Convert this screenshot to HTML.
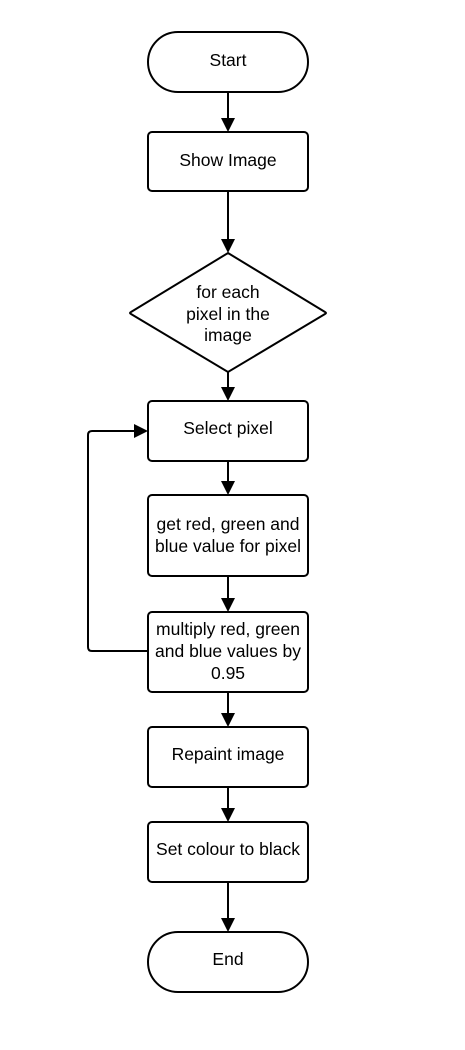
<!DOCTYPE html>
<html><head><meta charset="utf-8"><style>
html,body{margin:0;padding:0;background:#fff;}
svg{display:block}
text{font-family:"Liberation Sans",sans-serif;font-size:17.5px;fill:#000;text-anchor:middle}
</style></head><body>
<svg width="465" height="1050" viewBox="0 0 465 1050">
<g fill="#fff" stroke="#000" stroke-width="2">
<rect x="148" y="32" width="160" height="60" rx="30"/>
<rect x="148" y="132" width="160" height="59" rx="4"/>
<path d="M228 253 L325 312 Q327 313 325 314 L228 372 L131 314 Q129 313 131 312 Z"/>
<rect x="148" y="401" width="160" height="60" rx="4"/>
<rect x="148" y="495" width="160" height="81" rx="4"/>
<rect x="148" y="612" width="160" height="80" rx="4"/>
<rect x="148" y="727" width="160" height="60" rx="4"/>
<rect x="148" y="822" width="160" height="60" rx="4"/>
<rect x="148" y="932" width="160" height="60" rx="30"/>
</g>
<g stroke="#000" stroke-width="2" fill="none">
<line x1="228" y1="92" x2="228" y2="120"/>
<line x1="228" y1="191" x2="228" y2="241"/>
<line x1="228" y1="372" x2="228" y2="389"/>
<line x1="228" y1="461" x2="228" y2="483"/>
<line x1="228" y1="576" x2="228" y2="600"/>
<line x1="228" y1="692" x2="228" y2="715"/>
<line x1="228" y1="787" x2="228" y2="810"/>
<line x1="228" y1="882" x2="228" y2="920"/>
<path d="M148 651 H92 Q88 651 88 647 V435 Q88 431 92 431 H136"/>
</g>
<g fill="#000">
<polygon points="221,118 235,118 228,132"/>
<polygon points="221,239 235,239 228,253"/>
<polygon points="221,387 235,387 228,401"/>
<polygon points="221,481 235,481 228,495"/>
<polygon points="221,598 235,598 228,612"/>
<polygon points="221,713 235,713 228,727"/>
<polygon points="221,808 235,808 228,822"/>
<polygon points="221,918 235,918 228,932"/>
<polygon points="134,424 134,438 148,431"/>
</g>
<text x="228" y="66">Start</text>
<text x="228" y="166">Show Image</text>
<text x="228" y="298">for each</text>
<text x="228" y="320">pixel in the</text>
<text x="228" y="341">image</text>
<text x="228" y="434">Select pixel</text>
<text x="228" y="530">get red, green and</text>
<text x="228" y="552">blue value for pixel</text>
<text x="228" y="635">multiply red, green</text>
<text x="228" y="657">and blue values by</text>
<text x="228" y="679">0.95</text>
<text x="228" y="760">Repaint image</text>
<text x="228" y="855">Set colour to black</text>
<text x="228" y="965">End</text>
</svg>
</body></html>
